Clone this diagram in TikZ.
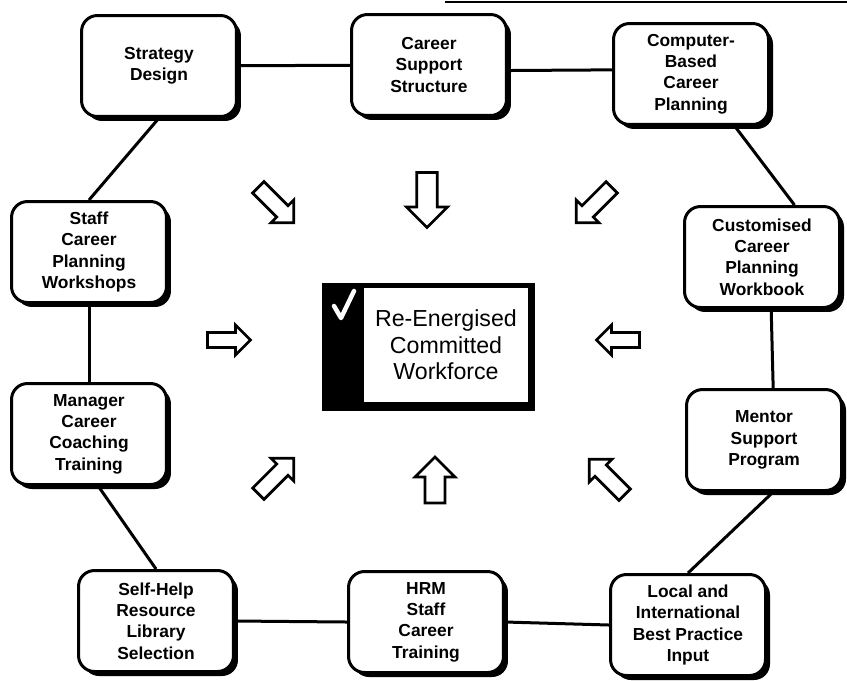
\documentclass[tikz,border=0pt]{standalone}
\usepackage{fontspec}
\setmainfont{Liberation Sans}
\usetikzlibrary{shadows}

\tikzset{
  stepbox/.style={draw=black, fill=white, line width=0.06cm, rounded corners=0.32cm,
    minimum width=3.1cm, minimum height=2.02cm, align=center,
    font=\fontsize{9.9}{12.2}\selectfont\bfseries,
    drop shadow={shadow xshift=0.09cm, shadow yshift=-0.09cm, fill=black, opacity=1}},
  linkline/.style={line width=0.06cm},
  arrowline/.style={draw=black, fill=white, line width=0.055cm, line join=miter},
}

% block arrow: x, y, angle, length, head width
\newcommand{\inarrow}[5]{%
  \draw[arrowline, shift={(#1,#2)}, rotate=#3]
    (-#4/2,-#5/4) -- (#4/2-#5/2,-#5/4) -- (#4/2-#5/2,-#5/2) -- (#4/2,0)
    -- (#4/2-#5/2,#5/2) -- (#4/2-#5/2,#5/4) -- (-#4/2,#5/4) -- cycle;}

\begin{document}
\begin{tikzpicture}[x=0.02cm, y=-0.02cm]
\useasboundingbox (0,0) rectangle (847,680);

% Ring of contributing activities
\node[stepbox] (strategy) at (159,66)  {Strategy\\Design};
\node[stepbox] (support)  at (429,65)  {Career\\Support\\Structure};
\node[stepbox] (computer) at (691,74)  {Computer-\\Based\\Career\\Planning};
\node[stepbox] (workbook) at (762,257) {Customised\\Career\\Planning\\Workbook};
\node[stepbox] (mentor)   at (764,440) {Mentor\\Support\\Program};
\node[stepbox] (practice) at (688,625) {Local and\\International\\Best Practice\\Input};
\node[stepbox] (hrm)      at (426,622) {HRM\\Staff\\Career\\Training};
\node[stepbox] (selfhelp) at (156,621) {Self-Help\\Resource\\Library\\Selection};
\node[stepbox] (manager)  at (89,434)  {Manager\\Career\\Coaching\\Training};
\node[stepbox] (workshop) at (89,252)  {Staff\\Career\\Planning\\Workshops};

% Links round the ring
\begin{scope}[on background layer/.try]
\draw[linkline] (strategy) -- (support);
\draw[linkline] (support.-4) -- (computer.177);
\draw[linkline] (computer.-50) -- (workbook.58);
\draw[linkline] (workbook.-80) -- (mentor.80);
\draw[linkline] (mentor.-80) -- (practice.north);
\draw[linkline] (practice.west) -- (hrm.east);
\draw[linkline] (hrm.west) -- (selfhelp.east);
\draw[linkline] (selfhelp.north) -- (manager.-80);
\draw[linkline] (manager.north) -- (workshop.south);
\draw[linkline] (workshop.north) -- (strategy.south);
\end{scope}

% Rule along the top edge
\draw[line width=0.05cm] (445,2) -- (847,2);

% Central outcome
\fill[black] (322,283) rectangle (535,411);
\node[fill=white, minimum width=3.28cm, minimum height=2.28cm, inner sep=0pt,
      align=center, font=\fontsize{13.2}{15}\selectfont] (goal) at (446,345)
  {Re-Energised\\Committed\\Workforce};
\draw[white, line width=0.09cm, line cap=round, line join=round]
  (334,306) -- (341,318) -- (354,291);

% Arrows pointing inwards
\inarrow{276}{205}{-45}{50}{32}
\inarrow{427}{200}{-90}{55}{41}
\inarrow{594}{205}{-135}{50}{32}
\inarrow{229}{340}{0}{43}{30}
\inarrow{618}{340}{180}{43}{30}
\inarrow{276}{476}{45}{50}{32}
\inarrow{435}{480}{90}{46}{40}
\inarrow{607}{477}{135}{50}{32}
\end{tikzpicture}
\end{document}
